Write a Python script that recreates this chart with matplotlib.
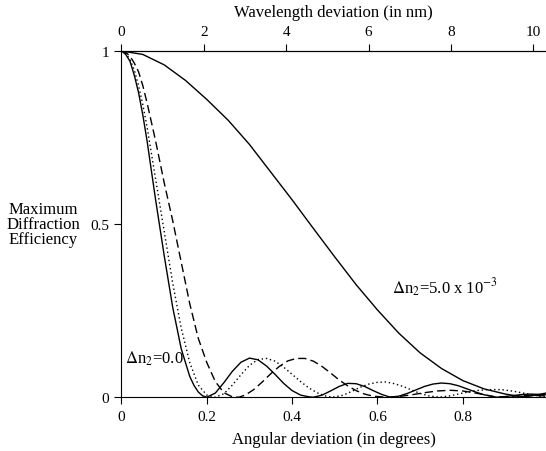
import matplotlib
matplotlib.use('Agg')
import matplotlib.pyplot as plt

plt.rcParams['font.family'] = ['Liberation Serif', 'DejaVu Serif']
plt.rcParams['mathtext.fontset'] = 'stix'

# values
# narrow solid curve, dn2 = 0.0
x_s0 = [0, 0.01, 0.02, 0.03, 0.04, 0.05, 0.06, 0.08, 0.10, 0.12, 0.14, 0.16, 0.17, 0.18, 0.19, 0.20,
        0.22, 0.24, 0.26, 0.28, 0.30, 0.32, 0.34, 0.36, 0.38, 0.40, 0.42, 0.44, 0.45,
        0.47, 0.49, 0.51, 0.53, 0.55, 0.57, 0.59, 0.61, 0.63,
        0.65, 0.67, 0.69, 0.71, 0.73, 0.75, 0.77, 0.79, 0.81, 0.83, 0.85, 0.87, 0.88,
        0.90, 0.92, 0.94, 0.96, 0.98, 0.995]
y_s0 = [1.0, 0.99, 0.97, 0.93, 0.88, 0.815, 0.74, 0.57, 0.41, 0.26, 0.14, 0.06, 0.034, 0.015, 0.004, 0.0,
        0.012, 0.042, 0.075, 0.101, 0.113, 0.108, 0.090, 0.066, 0.040, 0.019, 0.006, 0.001, 0.0,
        0.006, 0.018, 0.031, 0.040, 0.039, 0.031, 0.019, 0.008, 0.0,
        0.003, 0.011, 0.021, 0.031, 0.038, 0.041, 0.039, 0.033, 0.024, 0.015, 0.007, 0.002, 0.0,
        0.002, 0.005, 0.008, 0.009, 0.008, 0.007]

# dotted curve
x_dot = [0, 0.01, 0.02, 0.03, 0.04, 0.05, 0.06, 0.08, 0.10, 0.12, 0.14, 0.16, 0.18, 0.20, 0.22,
         0.24, 0.26, 0.28, 0.30, 0.32, 0.34, 0.36, 0.38, 0.40, 0.42, 0.44, 0.46, 0.48, 0.495,
         0.52, 0.54, 0.56, 0.58, 0.60, 0.62, 0.64, 0.66, 0.68, 0.70, 0.72, 0.745,
         0.77, 0.80, 0.83, 0.86, 0.89, 0.92, 0.95, 0.98, 0.995]
y_dot = [1.0, 0.993, 0.975, 0.945, 0.90, 0.845, 0.78, 0.63, 0.48, 0.33, 0.20, 0.10, 0.035, 0.006, 0.0,
         0.010, 0.035, 0.065, 0.092, 0.109, 0.112, 0.104, 0.087, 0.066, 0.045, 0.026, 0.012, 0.003, 0.0,
         0.006, 0.017, 0.029, 0.038, 0.043, 0.044, 0.039, 0.031, 0.021, 0.011, 0.004, 0.0,
         0.004, 0.012, 0.019, 0.022, 0.022, 0.017, 0.010, 0.003, 0.001]

# dashed curve
x_dash = [0, 0.01, 0.02, 0.03, 0.04, 0.05, 0.06, 0.08, 0.10, 0.12, 0.14, 0.16, 0.18, 0.20, 0.22, 0.24,
          0.26, 0.275,
          0.29, 0.31, 0.33, 0.35, 0.37, 0.39, 0.41, 0.43, 0.45, 0.47, 0.49, 0.51, 0.53, 0.55,
          0.57, 0.59, 0.62,
          0.65, 0.68, 0.71, 0.74, 0.77, 0.80, 0.83, 0.86, 0.88, 0.92, 0.96, 0.995]
y_dash = [1.0, 0.996, 0.985, 0.965, 0.94, 0.90, 0.85, 0.74, 0.62, 0.51, 0.39, 0.27, 0.17, 0.10, 0.045, 0.013,
          0.001, 0.0,
          0.006, 0.022, 0.044, 0.068, 0.089, 0.105, 0.112, 0.112, 0.104, 0.089, 0.070, 0.050, 0.033, 0.019,
          0.009, 0.003, 0.0,
          0.002, 0.007, 0.013, 0.018, 0.020, 0.018, 0.012, 0.005, 0.0, 0.003, 0.005, 0.004]

# wide solid curve, dn2 = 5.0e-3
x_w = [0, 0.05, 0.10, 0.15, 0.20, 0.25, 0.30, 0.35, 0.40, 0.45, 0.50, 0.55, 0.60, 0.65,
       0.70, 0.75, 0.80, 0.85, 0.90, 0.93, 0.95, 0.97, 0.995]
y_w = [1.0, 0.99, 0.96, 0.915, 0.86, 0.80, 0.73, 0.65, 0.57, 0.487, 0.405, 0.325, 0.252, 0.185,
       0.128, 0.083, 0.048, 0.024, 0.009, 0.003, 0.002, 0.006, 0.012]

x_ticks = [0, 0.2, 0.4, 0.6, 0.8]
x_ticklabels = ['0', '0.2', '0.4', '0.6', '0.8']
y_ticks = [0, 0.5, 1]
y_ticklabels = ['0', '0.5', '1']
nm_ticks = [0, 2, 4, 6, 8, 10]
nm_per_deg = 10.36

fig = plt.figure(figsize=(5.46, 4.52), dpi=100)
ax = fig.add_axes([0.2225, 0.119, 0.7775, 0.766])

ax.plot(x_w, y_w, color='black', lw=1.0)
ax.plot(x_s0, y_s0, color='black', lw=1.0)
ax.plot(x_dot, y_dot, color='black', lw=1.0, linestyle=(0, (1, 2)))
ax.plot(x_dash, y_dash, color='black', lw=1.0, linestyle=(0, (6, 3)))

ax.set_xlim(0, 0.995)
ax.set_ylim(0, 1)
ax.spines['right'].set_visible(False)

ax.set_xticks(x_ticks)
ax.set_xticklabels(x_ticklabels)
ax.set_yticks(y_ticks)
ax.set_yticklabels(y_ticklabels)
ax.tick_params(direction='out', length=5, width=0.8, labelsize=11, pad=4)
ax.set_xlabel('Angular deviation (in degrees)', fontsize=12, labelpad=6)

ax.text(-0.185, 0.5, 'Maximum\nDiffraction\nEfficiency', transform=ax.transAxes,
        ha='center', va='center', multialignment='center', fontsize=12, linespacing=0.95)

sec = ax.secondary_xaxis('top', functions=(lambda d: d * nm_per_deg, lambda n: n / nm_per_deg))
sec.set_xticks(nm_ticks)
sec.tick_params(direction='out', length=5, width=0.8, labelsize=11, pad=4)
sec.set_xlabel('Wavelength deviation (in nm)', fontsize=12, labelpad=7)

ax.text(0.633, 0.30, r'$\Delta$n$_2$=5.0 x 10$^{-3}$', fontsize=12)
ax.text(0.008, 0.10, r'$\Delta$n$_2$=0.0', fontsize=12)

fig.savefig('out.png', dpi=100, facecolor='white')
